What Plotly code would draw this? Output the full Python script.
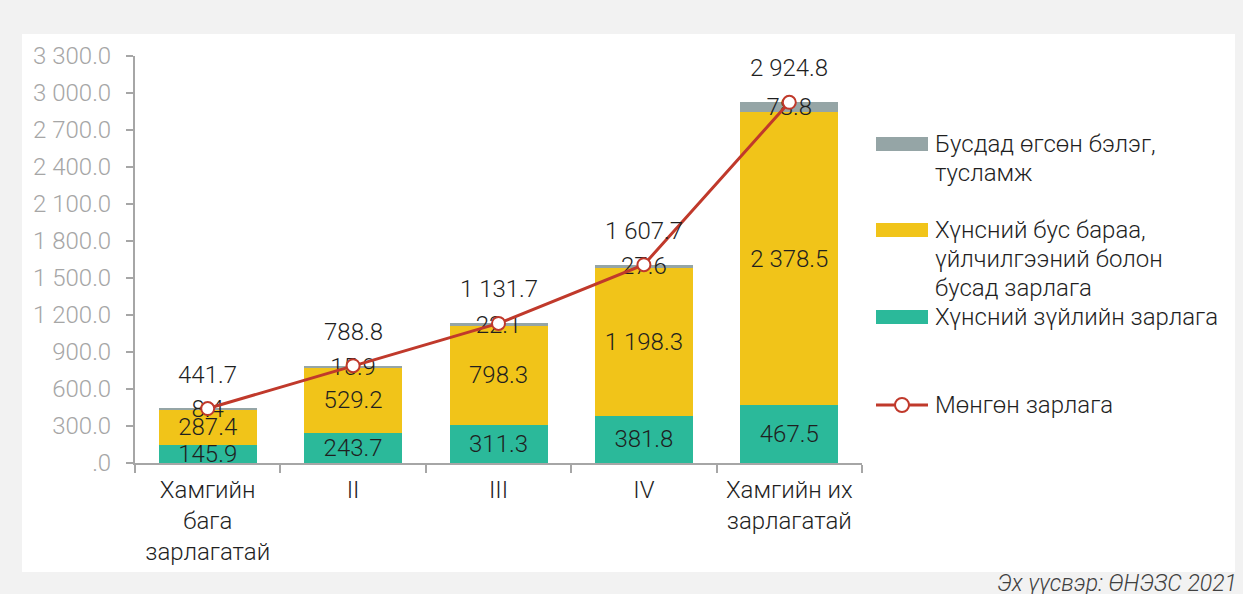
import plotly.graph_objects as go

categories = ["Хамгийн<br>бага<br>зарлагатай", "II", "III", "IV", "Хамгийн их<br>зарлагатай"]
food = [145.9, 243.7, 311.3, 381.8, 467.5]
nonfood = [287.4, 529.2, 798.3, 1198.3, 2378.5]
gifts = [8.4, 15.9, 22.1, 27.6, 78.8]
cash_total = [441.7, 788.8, 1131.7, 1607.7, 2924.8]

tick_vals = [0, 300, 600, 900, 1200, 1500, 1800, 2100, 2400, 2700, 3000, 3300]
tick_text = [".0", "300.0", "600.0", "900.0", "1 200.0", "1 500.0", "1 800.0",
             "2 100.0", "2 400.0", "2 700.0", "3 000.0", "3 300.0"]

name_food = "Хүнсний зүйлийн зарлага"
name_nonfood = "Хүнсний бус бараа, үйлчилгээний болон бусад зарлага"
name_gifts = "Бусдад өгсөн бэлэг, тусламж"
name_cash = "Мөнгөн зарлага"

C_FOOD = "#2BB99A"
C_NONFOOD = "#F1C419"
C_GIFTS = "#95A5A6"
C_LINE = "#C0392B"
TXT = "#1F1F1F"
FONT = "Roboto"
FS = 24

# plot area in pixels
L, R, T, B = 135, 862, 56, 463
W, H = 1243, 594


def px(x):
    return (x - L) / (R - L)


def py(y):
    return (B - y) / (B - T)


fig = go.Figure()
for vals, col, nm in [(food, C_FOOD, name_food), (nonfood, C_NONFOOD, name_nonfood), (gifts, C_GIFTS, name_gifts)]:
    fig.add_trace(go.Bar(
        x=categories, y=vals, name=nm, marker=dict(color=col, line=dict(width=0)),
        texttemplate="%{y:,.1f}", textposition="inside", insidetextanchor="middle",
        constraintext="none", textangle=0, cliponaxis=False,
        insidetextfont=dict(family=FONT, size=FS, color=TXT, weight=300),
        showlegend=False, hoverinfo="skip",
    ))

fig.add_trace(go.Scatter(
    x=categories, y=cash_total, name=name_cash, mode="lines+markers",
    line=dict(color=C_LINE, width=3),
    marker=dict(symbol="circle", size=13, color="white", line=dict(color=C_LINE, width=2)),
    showlegend=False, hoverinfo="skip", cliponaxis=False,
))

annotations = []
for c, v in zip(categories, cash_total):
    annotations.append(dict(
        x=c, y=v, xref="x", yref="y", text=f"{v:,.1f}".replace(",", " "),
        showarrow=False, yshift=34, font=dict(family=FONT, size=FS, color=TXT, weight=300),
    ))

# custom legend
shapes = [
    dict(type="rect", xref="paper", yref="paper", x0=px(22), x1=px(1235), y0=py(572), y1=py(34),
         fillcolor="white", line=dict(width=0), layer="below"),
]
leg_rects = [(C_GIFTS, 144), (C_NONFOOD, 230), (C_FOOD, 317)]
for col, yc in leg_rects:
    shapes.append(dict(type="rect", xref="paper", yref="paper", x0=px(876), x1=px(928),
                       y0=py(yc + 7), y1=py(yc - 7), fillcolor=col, line=dict(width=0)))
shapes.append(dict(type="line", xref="paper", yref="paper", x0=px(876), x1=px(928),
                   y0=py(405), y1=py(405), line=dict(color=C_LINE, width=3)))
shapes.append(dict(type="circle", xref="paper", yref="paper", x0=px(895), x1=px(909),
                   y0=py(412), y1=py(398), fillcolor="white", line=dict(color=C_LINE, width=2)))

leg_lines = [
    ("Бусдад өгсөн бэлэг,", 144), ("тусламж", 173),
    ("Хүнсний бус бараа,", 230), ("үйлчилгээний болон", 259), ("бусад зарлага", 288),
    ("Хүнсний зүйлийн зарлага", 317),
    ("Мөнгөн зарлага", 405),
]
for t, yc in leg_lines:
    annotations.append(dict(x=px(933), y=py(yc), xref="paper", yref="paper", text=t,
                            xanchor="left", yanchor="middle", showarrow=False,
                            font=dict(family=FONT, size=FS, color=TXT, weight=300)))

annotations.append(dict(x=px(1239), y=py(583), xref="paper", yref="paper",
                        text="<i>Эх үүсвэр: ӨНЭЗС 2021</i>", xanchor="right", yanchor="middle",
                        showarrow=False, font=dict(family=FONT, size=23, color="#404040", weight=300)))

fig.update_layout(
    width=W, height=H, barmode="stack", bargap=0.326,
    margin=dict(l=L, r=W - R, t=T, b=H - B, pad=0),
    paper_bgcolor="#F2F2F2", plot_bgcolor="white",
    separators=". ",
    font=dict(family=FONT, size=FS, color=TXT),
    shapes=shapes, annotations=annotations, showlegend=False,
    xaxis=dict(showgrid=False, showline=True, linecolor="#A6A6A6", linewidth=2,
               ticks="outside", ticklen=8, tickcolor="#A6A6A6", tickwidth=2,
               tickson="boundaries", tickfont=dict(family=FONT, size=FS, color=TXT, weight=300),
               ticklabelstandoff=4),
    yaxis=dict(range=[0, 3300], showgrid=False, showline=True, linecolor="#A6A6A6", linewidth=2,
               ticks="outside", ticklen=7, tickcolor="#A6A6A6", tickwidth=2,
               tickvals=tick_vals, ticktext=tick_text, zeroline=False, ticklabelstandoff=10,
               tickfont=dict(family=FONT, size=FS, color="#A6A6A6", weight=300)),
)

fig.write_html("out.html", config={"displayModeBar": False},
               post_script="document.body.style.margin='0';document.body.style.padding='0';")
